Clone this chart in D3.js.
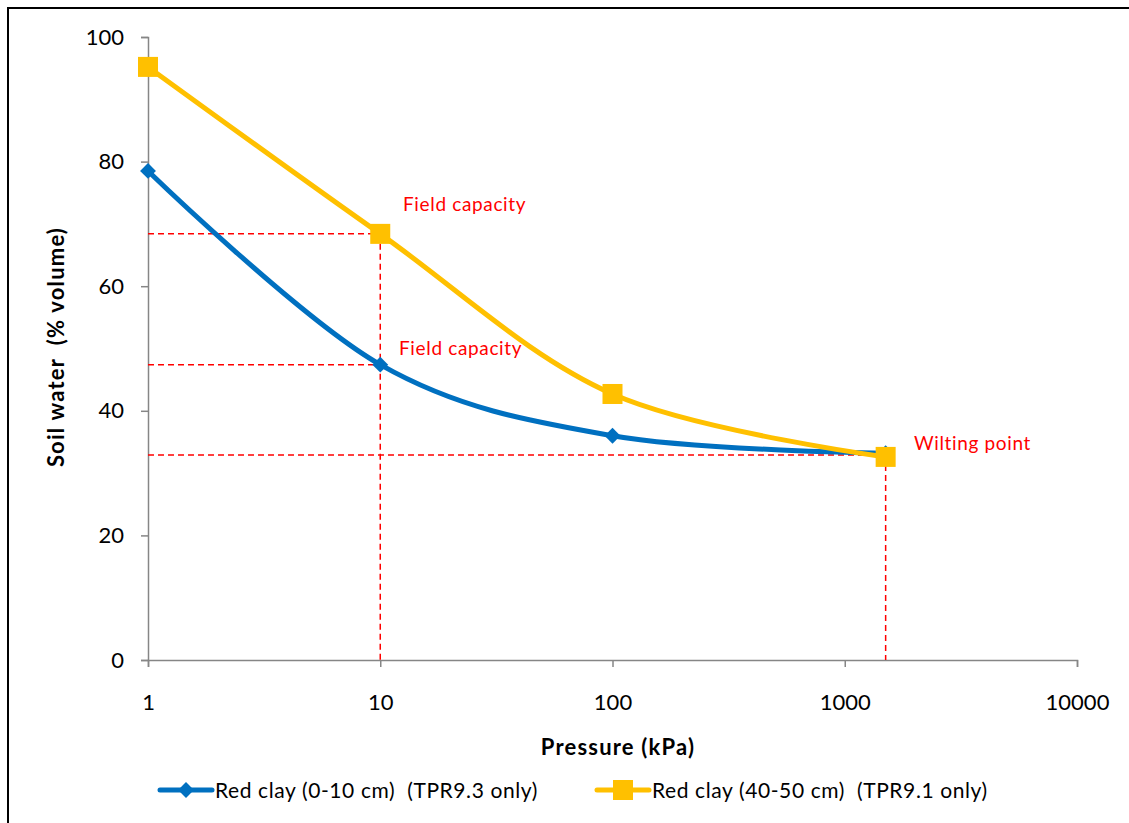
<!DOCTYPE html>
<html>
<head>
<meta charset="utf-8">
<script src="https://cdn.jsdelivr.net/npm/d3@7"></script>
<style>
  body { margin: 0; background: #fff; }
  text { font-family: Lato, "Open Sans", sans-serif; }
</style>
</head>
<body>
<script>
var width = 1129,
    height = 823;

// data
var pressure = [1, 10, 100, 1500];
var topSoil = [78.5, 47.4, 36.0, 33.2];   // Red clay (0-10 cm)
var subSoil = [95.2, 68.4, 42.7, 32.6];   // Red clay (40-50 cm)
var seriesNames = ["Red clay (0-10 cm)  (TPR9.3 only)", "Red clay (40-50 cm)  (TPR9.1 only)"];
var xTicks = [1, 10, 100, 1000, 10000];
var yTicks = [0, 20, 40, 60, 80, 100];

// reference guides: [pressure, water, label]
var guides = [
  [10, 68.4, "Field capacity"],
  [10, 47.4, "Field capacity"],
  [1500, 32.9, "Wilting point"]
];

var x = d3.scaleLog()
    .domain([1, 10000])
    .range([148, 1077]);

var y = d3.scaleLinear()
    .domain([0, 100])
    .range([660, 37]);

var svg = d3.select("body").append("svg")
    .attr("width", width)
    .attr("height", height);

// frame (only top/left visible in the picture)
svg.append("path")
    .attr("d", "M8," + height + "V8H" + width)
    .attr("fill", "none")
    .attr("stroke", "#000")
    .attr("stroke-width", 2);

// axes
var xAxis = svg.append("g")
    .attr("transform", "translate(0," + y(0) + ")")
    .call(d3.axisBottom(x).tickValues(xTicks).tickFormat(d3.format("d")).tickSize(7).tickPadding(27));

var yAxis = svg.append("g")
    .attr("transform", "translate(" + x(1) + ",0)")
    .call(d3.axisLeft(y).tickValues(yTicks).tickSize(7).tickPadding(17));

[xAxis, yAxis].forEach(function(a) {
  a.select(".domain").attr("stroke", "#868686").attr("stroke-width", 1.5);
  a.selectAll(".tick line").attr("stroke", "#868686").attr("stroke-width", 1.5);
  a.selectAll(".tick text")
      .attr("font-family", "Lato, sans-serif")
      .attr("font-size", 22)
      .attr("fill", "#000");
});

// dashed guide lines
var g = svg.append("g")
    .attr("stroke", "#ff0000")
    .attr("stroke-width", 1.5)
    .attr("stroke-dasharray", "6,4")
    .attr("fill", "none");

guides.forEach(function(d) {
  g.append("line")
      .attr("x1", x(1)).attr("x2", x(d[0]))
      .attr("y1", y(d[1])).attr("y2", y(d[1]));
});
// verticals down to the x axis
[[10, 68.4], [1500, 32.9]].forEach(function(d) {
  g.append("line")
      .attr("x1", x(d[0])).attr("x2", x(d[0]))
      .attr("y1", y(d[1])).attr("y2", y(0));
});

// series
var line = d3.line()
    .x(function(d, i) { return x(pressure[i]); })
    .y(function(d) { return y(d); })
    .curve(d3.curveCatmullRom.alpha(0));

svg.append("path")
    .datum(topSoil)
    .attr("d", line)
    .attr("fill", "none")
    .attr("stroke", "#0070c0")
    .attr("stroke-width", 5);

svg.append("path")
    .datum(subSoil)
    .attr("d", line)
    .attr("fill", "none")
    .attr("stroke", "#ffc000")
    .attr("stroke-width", 5);

var diamond = d3.symbol().type(d3.symbolDiamond2).size(160);

svg.selectAll(".blue-pt")
    .data(topSoil)
    .enter().append("path")
      .attr("class", "blue-pt")
      .attr("d", diamond)
      .attr("transform", function(d, i) { return "translate(" + x(pressure[i]) + "," + y(d) + ")"; })
      .attr("fill", "#0070c0");

svg.selectAll(".yellow-pt")
    .data(subSoil)
    .enter().append("rect")
      .attr("class", "yellow-pt")
      .attr("x", function(d, i) { return x(pressure[i]) - 10; })
      .attr("y", function(d) { return y(d) - 10; })
      .attr("width", 20)
      .attr("height", 20)
      .attr("fill", "#ffc000");

// guide labels
var labelPos = [[403, 211], [399, 355], [914, 450]];
svg.selectAll(".guide-label")
    .data(guides)
    .enter().append("text")
      .attr("class", "guide-label")
      .attr("x", function(d, i) { return labelPos[i][0]; })
      .attr("y", function(d, i) { return labelPos[i][1]; })
      .attr("font-size", 19)
      .attr("letter-spacing", 0.65)
      .attr("fill", "#ff0000")
      .text(function(d) { return d[2]; });

// axis titles
svg.append("text")
    .attr("x", 618)
    .attr("y", 755)
    .attr("text-anchor", "middle")
    .attr("font-size", 22)
    .attr("font-weight", "bold")
    .attr("letter-spacing", 1.2)
    .text("Pressure (kPa)");

svg.append("text")
    .attr("transform", "translate(64,347) rotate(-90)")
    .attr("text-anchor", "middle")
    .attr("font-size", 22)
    .attr("font-weight", "bold")
    .attr("letter-spacing", 1.2)
    .attr("xml:space", "preserve")
    .style("white-space", "pre")
    .text("Soil water  (% volume)");

// legend
var legend = svg.append("g");
var legendX = [160, 597];
var legendColors = ["#0070c0", "#ffc000"];

seriesNames.forEach(function(name, i) {
  var lg = legend.append("g").attr("transform", "translate(" + legendX[i] + ",790)");
  lg.append("line")
      .attr("x1", 0).attr("x2", 52)
      .attr("stroke", legendColors[i])
      .attr("stroke-width", 5)
      .attr("stroke-linecap", "round");
  if (i === 0) {
    lg.append("path")
        .attr("d", diamond)
        .attr("transform", "translate(26,0)")
        .attr("fill", legendColors[i]);
  } else {
    lg.append("rect")
        .attr("x", 16).attr("y", -10)
        .attr("width", 20).attr("height", 20)
        .attr("fill", legendColors[i]);
  }
  lg.append("text")
      .attr("x", 55)
      .attr("y", 8)
      .attr("font-size", 21)
      .attr("letter-spacing", 0.6)
      .attr("xml:space", "preserve")
      .style("white-space", "pre")
      .text(name);
});
</script>
</body>
</html>
